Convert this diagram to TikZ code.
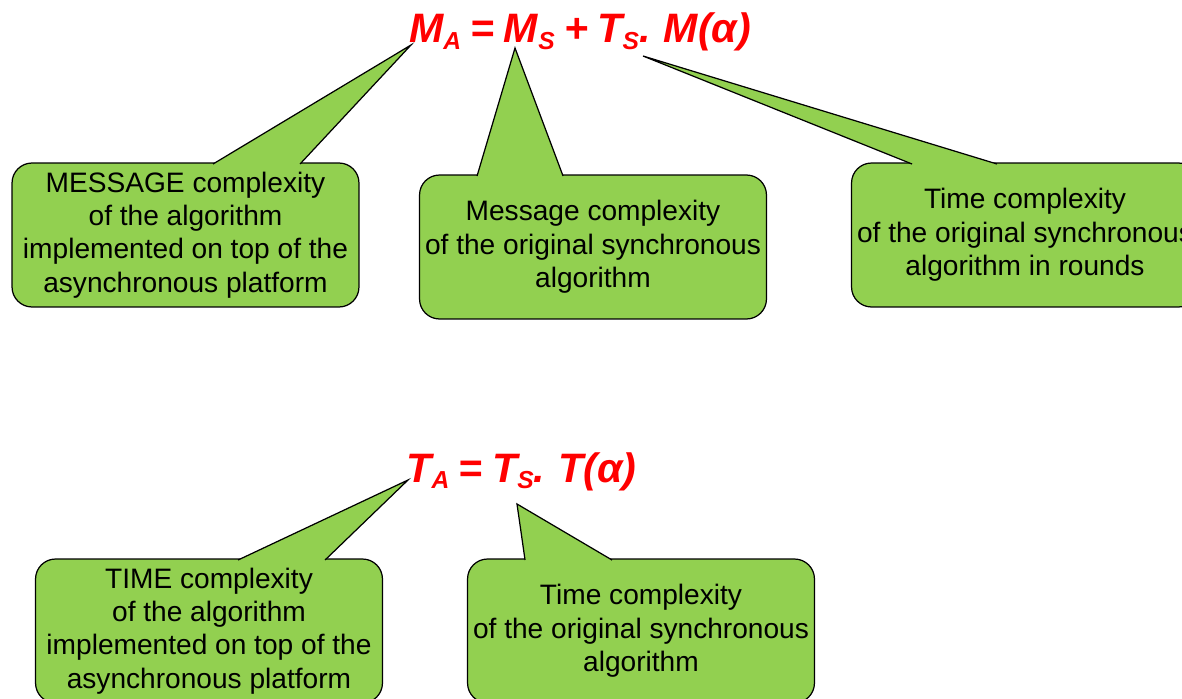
\documentclass[tikz,border=0pt]{standalone}
\usepackage{fontspec}
\setmainfont{Liberation Sans}
\usepackage{tikz}
\usetikzlibrary{calc}
\definecolor{bubblegreen}{HTML}{92D050}
\definecolor{formulared}{HTML}{FF0000}
\newcommand{\lowsub}[1]{\raisebox{-3.6pt}{\fontsize{14}{14}\selectfont #1}}
\newcommand{\formulafont}{\fontsize{23.4}{28}\selectfont\bfseries\itshape\spaceskip 0.23em\relax}

\begin{document}
\begin{tikzpicture}[
        % one unit = one pixel of the slide, y grows downwards
        x=0.02cm, y=-0.02cm,
        % Callout bodies: green fill, thin black border, rounded
        bubble/.style = {rectangle, draw=black, fill=bubblegreen, line width=0.7pt, rounded corners=0.4cm,
                         minimum width=6.94cm, minimum height=2.88cm, align=center, inner sep=0pt, outer sep=0pt,
                         font=\fontsize{16}{19}\selectfont},
        % Pointer wedge: filled triangle, only the two sides stroked
        wedge/.style = {fill=bubblegreen, draw=black, line width=0.7pt, line join=miter},
        % Formulas: red bold italic
        formula/.style = {anchor=base, text=formulared, inner sep=0pt, font=\formulafont}
    ]
    \path[use as bounding box, clip] (0,0) rectangle (1182,699);

    % --- Top row: message complexity ---
    \node[bubble] (msg_async) at (185.5,235) {MESSAGE complexity\\of the algorithm\\implemented on top of the\\asynchronous platform};
    \node[bubble] (msg_sync) at (593,247) {Message complexity\\of the original synchronous\\algorithm};
    \node[bubble] (time_rounds) at (1025,235) {Time complexity\\of the original synchronous\\algorithm in rounds};

    % --- Bottom row: time complexity ---
    \node[bubble] (time_async) at (209,631) {TIME complexity\\of the algorithm\\implemented on top of the\\asynchronous platform};
    \node[bubble] (time_sync) at (641,631) {Time complexity\\of the original synchronous\\algorithm};

    % --- Pointer tips under the formulas ---
    \coordinate (tip_ma) at (411,45);
    \coordinate (tip_ms) at (515,48);
    \coordinate (tip_ts) at (643,56);
    \coordinate (tip_ta) at (408,480);
    \coordinate (tip_tts) at (517,504);

    % --- Pointers ---
    \filldraw[wedge] ($(msg_async.north west)+(201,1)$) -- (tip_ma) -- ($(msg_async.north west)+(288,1)$);
    \filldraw[wedge] ($(msg_sync.north west)+(57.5,1)$) -- (tip_ms) -- ($(msg_sync.north west)+(143.5,1)$);
    \filldraw[wedge] ($(time_rounds.north west)+(60.5,1)$) -- (tip_ts) -- ($(time_rounds.north west)+(145.5,1)$);
    \filldraw[wedge] ($(time_async.north west)+(202.5,1)$) -- (tip_ta) -- ($(time_async.north west)+(289.5,1)$);
    \filldraw[wedge] ($(time_sync.north west)+(57.5,1)$) -- (tip_tts) -- ($(time_sync.north west)+(144.5,1)$);

    % --- Formulas ---
    \node[formula] (msg_formula) at (580,43) {M\lowsub{A} = M\lowsub{S} + T\lowsub{S}. M(α)};
    \node[formula] (time_formula) at (521.5,482) {T\lowsub{A} = T\lowsub{S}. T(α)};

\end{tikzpicture}
\end{document}
